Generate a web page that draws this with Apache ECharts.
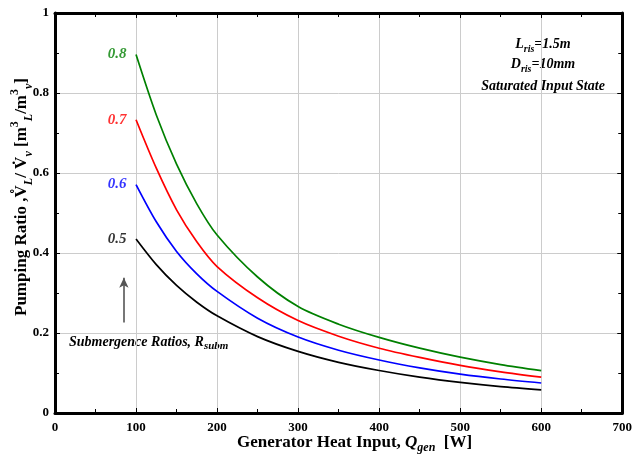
<!DOCTYPE html>
<html><head><meta charset="utf-8">
<script src="https://cdn.jsdelivr.net/npm/echarts@6/dist/echarts.min.js"></script>
<style>html,body{margin:0;padding:0;background:#fff}#c{width:635px;height:463px}</style>
</head><body><div id="c"></div>
<script>
var heatInput = [100, 125, 150, 175, 200, 250, 300, 350, 400, 450, 500, 550, 600];
var ratio08 = [0.896, 0.745, 0.622, 0.523, 0.445, 0.340, 0.266, 0.222, 0.189, 0.162, 0.1395, 0.121, 0.106];
var ratio07 = [0.733, 0.612, 0.508, 0.428, 0.366, 0.288, 0.231, 0.192, 0.162, 0.139, 0.119, 0.103, 0.0895];
var ratio06 = [0.571, 0.478, 0.404, 0.348, 0.304, 0.237, 0.190, 0.157, 0.1326, 0.113, 0.0973, 0.085, 0.075];
var ratio05 = [0.435, 0.371, 0.319, 0.277, 0.243, 0.191, 0.154, 0.1266, 0.1062, 0.0896, 0.0764, 0.066, 0.058];
var seriesNames = ['0.8', '0.7', '0.6', '0.5'];
var seriesColors = ['#008000', '#ff0000', '#0000ff', '#000000'];
var xTicks = [0, 100, 200, 300, 400, 500, 600, 700];
var yTicks = [0, 0.2, 0.4, 0.6, 0.8, 1];
var arrowQ = [85, 85];
var arrowRatio = [0.226, 0.338];

var FONT = 'Liberation Serif';
var chart = echarts.init(document.getElementById('c'), null, {renderer: 'canvas'});

function mk(vals) { return heatInput.map(function (q, i) { return [q, vals[i]]; }); }
var allVals = [ratio08, ratio07, ratio06, ratio05];

var series = [];
allVals.forEach(function (vals, k) {
  series.push({
    type: 'line', name: seriesNames[k], data: mk(vals), smooth: 0.3,
    showSymbol: false, symbol: 'none',
    lineStyle: {color: seriesColors[k], width: 1.7}, silent: true, z: 5
  });
  series.push({
    type: 'scatter', data: [[heatInput[0], vals[0]]], symbolSize: 1, silent: true,
    itemStyle: {color: 'rgba(0,0,0,0)'},
    label: {show: true, position: 'left', distance: 9, formatter: seriesNames[k],
      color: seriesColors[k], fontFamily: FONT, fontWeight: 'bold', fontStyle: 'italic', fontSize: 15}
  });
});
series.push({
  type: 'line', data: [], silent: true,
  markLine: {
    silent: true, symbol: ['none', 'arrow'], symbolSize: [7, 10], label: {show: false},
    lineStyle: {color: '#555', width: 1.6, type: 'solid'},
    data: [[{coord: [arrowQ[0], arrowRatio[0]]}, {coord: [arrowQ[1], arrowRatio[1]]}]]
  }
});

var axisLbl = {color: '#000', fontFamily: FONT, fontWeight: 'bold', fontSize: 13};
var grid = {left: 55, right: 7, top: 13, bottom: 50};

function frameAxis(extra) {
  return Object.assign({
    axisLine: {show: true, onZero: false, lineStyle: {color: '#000', width: 3}},
    axisTick: {show: true, inside: true, length: 5, lineStyle: {color: '#000', width: 1}},
    minorTick: {show: true, splitNumber: 2, length: 4, lineStyle: {color: '#000', width: 1}}
  }, extra);
}

chart.setOption({
  animation: false,
  grid: grid,
  xAxis: [frameAxis({
    type: 'value', min: 0, max: 700, interval: 100,
    splitLine: {show: true, lineStyle: {color: '#cccccc', width: 1}},
    axisLabel: Object.assign({margin: 8, formatter: function (v) { return xTicks.indexOf(v) >= 0 ? String(v) : ''; }}, axisLbl)
  }), frameAxis({
    type: 'value', min: 0, max: 700, interval: 100, position: 'top',
    splitLine: {show: false}, axisLabel: {show: false}
  })],
  yAxis: [frameAxis({
    type: 'value', min: 0, max: 1, interval: 0.2,
    splitLine: {show: true, lineStyle: {color: '#cccccc', width: 1}},
    axisLabel: Object.assign({margin: 6, formatter: function (v) {
      for (var i = 0; i < yTicks.length; i++) if (Math.abs(yTicks[i] - v) < 1e-9) return String(yTicks[i]);
      return '';
    }}, axisLbl)
  }), frameAxis({
    type: 'value', min: 0, max: 1, interval: 0.2, position: 'right',
    splitLine: {show: false}, axisLabel: {show: false}
  })],
  series: series,
  graphic: [
    {
      type: 'text', x: 237, y: 443, silent: true,
      style: {
        text: '{t|Generator Heat Input, }{q|Q}{s|gen}{t|  [W]}', align: 'left', verticalAlign: 'middle',
        rich: {
          t: {fontFamily: FONT, fontWeight: 'bold', fontSize: 17, color: '#000', lineHeight: 22, verticalAlign: 'middle'},
          q: {fontFamily: FONT, fontWeight: 'bold', fontStyle: 'italic', fontSize: 17, color: '#000', lineHeight: 22, verticalAlign: 'middle'},
          s: {fontFamily: FONT, fontWeight: 'bold', fontStyle: 'italic', fontSize: 12, color: '#000', lineHeight: 22, verticalAlign: 'bottom'}
        }
      }
    },
    {
      type: 'text', x: 22, y: 197, rotation: Math.PI / 2, silent: true,
      style: {
        text: '{t|Pumping Ratio ,}{t|V\u030A}{s|L}{t|/ V\u0307}{s|v}{t| [m}{p|3}{s|L}{t|/m}{p|3}{s|v}{t|]}',
        align: 'center', verticalAlign: 'middle',
        rich: {
          t: {fontFamily: FONT, fontWeight: 'bold', fontSize: 17, color: '#000', lineHeight: 26, verticalAlign: 'middle'},
          s: {fontFamily: FONT, fontWeight: 'bold', fontStyle: 'italic', fontSize: 12, color: '#000', lineHeight: 26, verticalAlign: 'bottom'},
          p: {fontFamily: FONT, fontWeight: 'bold', fontSize: 12, color: '#000', lineHeight: 26, verticalAlign: 'top'}
        }
      }
    },
    {
      type: 'text', x: 543, y: 44, silent: true,
      style: {
        text: '{t|L}{s|ris}{t|=1.5m}', align: 'center', verticalAlign: 'middle',
        rich: {
          t: {fontFamily: FONT, fontWeight: 'bold', fontStyle: 'italic', fontSize: 14, color: '#000', lineHeight: 20, verticalAlign: 'middle'},
          s: {fontFamily: FONT, fontWeight: 'bold', fontStyle: 'italic', fontSize: 10, color: '#000', lineHeight: 20, verticalAlign: 'bottom'}
        }
      }
    },
    {
      type: 'text', x: 543, y: 64, silent: true,
      style: {
        text: '{t|D}{s|ris}{t|=10mm}', align: 'center', verticalAlign: 'middle',
        rich: {
          t: {fontFamily: FONT, fontWeight: 'bold', fontStyle: 'italic', fontSize: 14, color: '#000', lineHeight: 20, verticalAlign: 'middle'},
          s: {fontFamily: FONT, fontWeight: 'bold', fontStyle: 'italic', fontSize: 10, color: '#000', lineHeight: 20, verticalAlign: 'bottom'}
        }
      }
    },
    {
      type: 'text', x: 543, y: 86, silent: true,
      style: {text: 'Saturated Input State', align: 'center', verticalAlign: 'middle',
        fontFamily: FONT, fontWeight: 'bold', fontStyle: 'italic', fontSize: 14, fill: '#000'}
    },
    {
      type: 'text', x: 69, y: 342, silent: true,
      style: {
        text: '{t|Submergence Ratios, R}{s|subm}', align: 'left', verticalAlign: 'middle',
        rich: {
          t: {fontFamily: FONT, fontWeight: 'bold', fontStyle: 'italic', fontSize: 14, color: '#000', lineHeight: 20, verticalAlign: 'middle'},
          s: {fontFamily: FONT, fontWeight: 'bold', fontStyle: 'italic', fontSize: 11, color: '#000', lineHeight: 20, verticalAlign: 'bottom'}
        }
      }
    }
  ]
});
</script>
</body></html>
